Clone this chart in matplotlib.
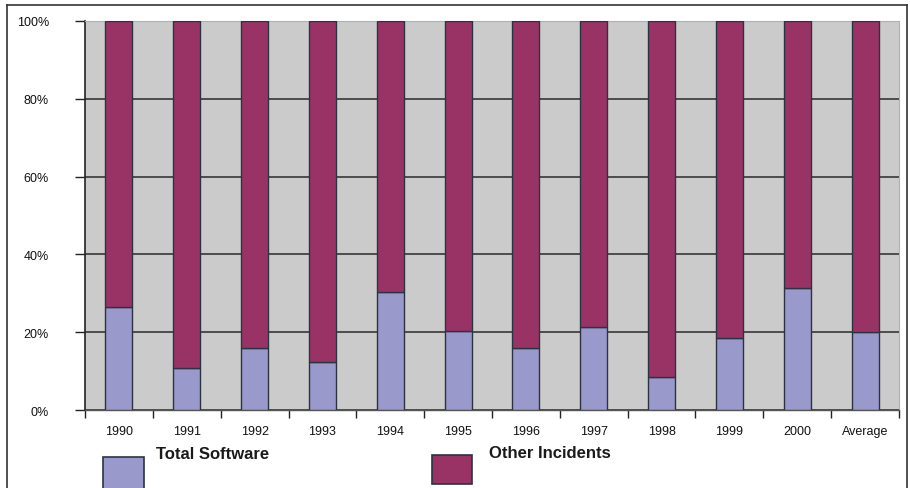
import numpy as np
import matplotlib as mpl
mpl.use('Agg')
import matplotlib.pyplot as plt
from matplotlib.patches import Rectangle
from matplotlib.lines import Line2D

categories = ['1990', '1991', '1992', '1993', '1994', '1995', '1996',
              '1997', '1998', '1999', '2000', 'Average']
total_software = [26.5, 10.8, 15.9, 12.3, 30.3, 20.3, 16.0, 21.3, 8.5, 18.5, 31.4, 20.1]
other_incidents = [100 - v for v in total_software]

blue = '#9999cc'
plum = '#993366'
edge = '#2b3340'
plot_bg = '#cbcbcb'

plt.rcParams['font.family'] = ['Liberation Sans', 'DejaVu Sans']

fig = plt.figure(figsize=(9.1, 4.89), dpi=100)
fig.patch.set_facecolor('white')
ax = fig.add_axes([85/910, 1 - 411/489, (899 - 85)/910, (411 - 22)/489])
ax.set_facecolor(plot_bg)

x = np.arange(len(categories))
ax.bar(x, total_software, width=0.4, color=blue, edgecolor=edge, linewidth=1.0, zorder=3)
ax.bar(x, other_incidents, width=0.4, bottom=total_software, color=plum,
       edgecolor=edge, linewidth=1.0, zorder=3)

ax.set_xlim(-0.5, len(categories) - 0.5)
ax.set_ylim(0, 100)

ax.set_yticks([0, 20, 40, 60, 80, 100])
ax.set_yticklabels(['0%', '20%', '40%', '60%', '80%', '100%'], fontsize=9, color='#111111')
ax.tick_params(axis='y', direction='out', length=7, width=1.0, color='#222222', pad=19)
ax.yaxis.grid(True, color='#2a2a2a', linewidth=1.1, zorder=1)

ax.set_xticks(x)
ax.set_xticklabels(categories, fontsize=9, color='#111111')
ax.tick_params(axis='x', which='major', length=0, pad=11)
ax.set_xticks(np.arange(len(categories) + 1) - 0.5, minor=True)
ax.tick_params(axis='x', which='minor', direction='out', length=6, width=1.0, color='#222222')

for side in ['top', 'right']:
    ax.spines[side].set_color('#9fb4c4')
    ax.spines[side].set_linewidth(0.8)
ax.spines['left'].set_color('#222222')
ax.spines['left'].set_linewidth(1.2)
ax.spines['bottom'].set_color('#555555')
ax.spines['bottom'].set_linewidth(1.0)

# outer frame (bottom edge is cut off in the original)
fx0, fx1, fy1 = 7/910, 907/910, 1 - 6/489
for xs, ys in [([fx0, fx0], [0, fy1]), ([fx0, fx1], [fy1, fy1]), ([fx1, fx1], [fy1, 0])]:
    fig.add_artist(Line2D(xs, ys, color='#333333', linewidth=1.2, transform=fig.transFigure))

# legend drawn by hand, like the original
fig.add_artist(Rectangle((103/910, 1 - 492/489), 41/910, 34/489, facecolor=blue,
                         edgecolor=edge, linewidth=1.2, transform=fig.transFigure))
fig.text(156/910, 1 - 455/489, 'Total Software', fontsize=12, fontweight='bold',
         va='center', ha='left', color='#1a1a1a')
fig.add_artist(Rectangle((432/910, 1 - 485/489), 40/910, 29/489, facecolor=plum,
                         edgecolor=edge, linewidth=1.2, transform=fig.transFigure))
fig.text(489/910, 1 - 454/489, 'Other Incidents', fontsize=12, fontweight='bold',
         va='center', ha='left', color='#1a1a1a')

fig.savefig('out.png', dpi=100)
plt.close(fig)
